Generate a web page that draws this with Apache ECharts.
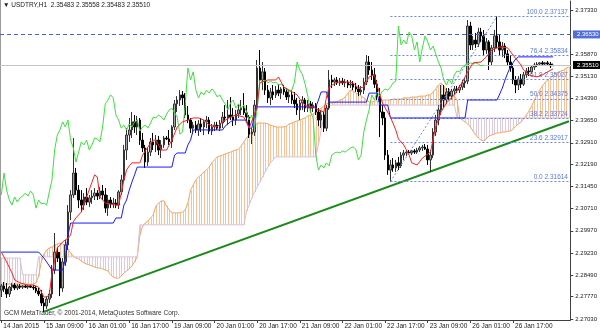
<!DOCTYPE html>
<html><head><meta charset="utf-8">
<script src="https://cdn.jsdelivr.net/npm/echarts@6/dist/echarts.min.js"></script>
<style>html,body{margin:0;padding:0;background:#fff}#c{width:600px;height:333px}</style>
</head><body><div id="c"></div>
<script>
const symbolTitle = '\u25BC USDTRY,H1  2.35483 2.35558 2.35483 2.35510';
const copyright = 'GCM MetaTrader, \u00A9 2001-2014, MetaQuotes Software Corp.';
const startTime = '2015-01-14T17:00';
const barCount = 214;
const xTickLabels = ['14 Jan 2015','15 Jan 09:00','16 Jan 01:00','16 Jan 17:00','19 Jan 09:00','20 Jan 01:00','20 Jan 17:00','21 Jan 09:00','22 Jan 01:00','22 Jan 17:00','23 Jan 09:00','26 Jan 01:00','26 Jan 17:00'];
const yTickValues = [2.3733,2.3587,2.3513,2.3439,2.3365,2.3291,2.3219,2.3145,2.3071,2.2997,2.2923,2.2849,2.2777,2.2703];

const open = [
2.2799,2.2813,2.2803,2.2786,2.2809,2.2816,2.2806,2.2813,2.2809,2.2813,
2.2809,2.2813,2.2809,2.2806,2.2796,2.2786,2.2756,2.2746,2.2769,2.2786,
2.2866,2.2926,2.2906,2.2806,2.2893,2.2950,2.3060,2.3117,2.3190,2.3133,
2.3100,2.3083,2.3110,2.3093,2.3107,2.3113,2.3123,2.3113,2.3130,2.3117,
2.3073,2.3100,2.3087,2.3090,2.3083,2.3127,2.3167,2.3267,2.3317,2.3334,
2.3361,2.3344,2.3367,2.3300,2.3274,2.3227,2.3260,2.3294,2.3284,2.3300,
2.3267,2.3284,2.3307,2.3304,2.3294,2.3344,2.3421,2.3434,2.3451,2.3441,
2.3384,2.3367,2.3340,2.3350,2.3334,2.3354,2.3344,2.3361,2.3367,2.3330,
2.3344,2.3350,2.3340,2.3357,2.3377,2.3374,2.3384,2.3377,2.3367,2.3387,
2.3401,2.3407,2.3391,2.3377,2.3320,2.3327,2.3417,2.3541,2.3501,2.3528,
2.3467,2.3441,2.3461,2.3451,2.3467,2.3457,2.3471,2.3461,2.3444,2.3451,
2.3434,2.3421,2.3401,2.3424,2.3434,2.3407,2.3421,2.3407,2.3417,2.3394,
2.3367,2.3384,2.3340,2.3407,2.3501,2.3494,2.3501,2.3491,2.3497,2.3491,
2.3494,2.3484,2.3487,2.3477,2.3471,2.3461,2.3467,2.3494,2.3561,2.3534,
2.3518,2.3487,2.3447,2.3394,2.3374,2.3250,2.3200,2.3217,2.3207,2.3224,
2.3214,2.3250,2.3257,2.3260,2.3257,2.3264,2.3260,2.3267,2.3274,2.3277,
2.3270,2.3234,2.3250,2.3327,2.3367,2.3401,2.3451,2.3434,2.3461,2.3447,
2.3464,2.3471,2.3467,2.3477,2.3491,2.3497,2.3681,2.3618,2.3634,2.3621,
2.3661,2.3648,2.3601,2.3628,2.3561,2.3608,2.3648,2.3628,2.3601,2.3614,
2.3588,2.3561,2.3541,2.3501,2.3484,2.3504,2.3487,2.3518,2.3531,2.3528,
2.3544,2.3551,2.3554,2.3558,2.3554,2.3558,2.3554,2.35483];
const high = [
2.2819,2.2826,2.2823,2.2813,2.2823,2.2823,2.2819,2.2819,2.2816,2.2816,
2.2816,2.2816,2.2816,2.2813,2.2806,2.2799,2.2773,2.2779,2.2799,2.2883,
2.2990,2.2943,2.2926,2.2906,2.2966,2.3083,2.3133,2.3307,2.3207,2.3150,
2.3133,2.3123,2.3140,2.3117,2.3133,2.3140,2.3133,2.3143,2.3150,2.3140,
2.3117,2.3110,2.3107,2.3103,2.3133,2.3184,2.3284,2.3340,2.3374,2.3394,
2.3384,2.3381,2.3374,2.3324,2.3284,2.3274,2.3307,2.3324,2.3317,2.3314,
2.3300,2.3314,2.3314,2.3334,2.3350,2.3434,2.3447,2.3467,2.3464,2.3457,
2.3414,2.3374,2.3361,2.3364,2.3367,2.3374,2.3367,2.3381,2.3377,2.3354,
2.3361,2.3361,2.3367,2.3394,2.3417,2.3434,2.3444,2.3407,2.3401,2.3421,
2.3434,2.3457,2.3417,2.3384,2.3340,2.3434,2.3568,2.3601,2.3561,2.3541,
2.3484,2.3474,2.3484,2.3481,2.3487,2.3477,2.3484,2.3474,2.3467,2.3467,
2.3461,2.3441,2.3434,2.3447,2.3441,2.3434,2.3431,2.3427,2.3424,2.3407,
2.3401,2.3394,2.3417,2.3534,2.3518,2.3508,2.3511,2.3508,2.3508,2.3504,
2.3501,2.3501,2.3497,2.3491,2.3484,2.3481,2.3508,2.3584,2.3581,2.3561,
2.3541,2.3501,2.3474,2.3417,2.3394,2.3267,2.3234,2.3240,2.3234,2.3244,
2.3260,2.3267,2.3267,2.3267,2.3267,2.3270,2.3274,2.3280,2.3284,2.3287,
2.3284,2.3267,2.3340,2.3384,2.3417,2.3484,2.3484,2.3474,2.3474,2.3471,
2.3481,2.3481,2.3484,2.3501,2.3508,2.3701,2.3695,2.3648,2.3658,2.3675,
2.3675,2.3668,2.3641,2.3634,2.3618,2.3668,2.37137,2.3651,2.3628,2.3624,
2.3601,2.3584,2.3554,2.3514,2.3514,2.3521,2.3528,2.3541,2.3544,2.3551,
2.3558,2.3561,2.3561,2.3564,2.3561,2.3564,2.3561,2.35558];
const low = [
2.2776,2.2793,2.2773,2.2776,2.2796,2.2799,2.2799,2.2803,2.2803,2.2806,
2.2803,2.2806,2.2799,2.2789,2.2779,2.2746,2.2726,2.2736,2.2756,2.2773,
2.2853,2.2893,2.2779,2.2793,2.2880,2.2933,2.3033,2.3107,2.3117,2.3073,
2.3060,2.3067,2.3083,2.3077,2.3087,2.3100,2.3100,2.3103,2.3100,2.3057,
2.3047,2.3073,2.3073,2.3073,2.3070,2.3117,2.3157,2.3234,2.3294,2.3307,
2.3324,2.3317,2.3284,2.3260,2.3207,2.3214,2.3247,2.3267,2.3260,2.3250,
2.3240,2.3274,2.3300,2.3284,2.3274,2.3334,2.3394,2.3414,2.3417,2.3374,
2.3357,2.3324,2.3320,2.3324,2.3314,2.3327,2.3317,2.3340,2.3320,2.3317,
2.3330,2.3334,2.3330,2.3340,2.3361,2.3350,2.3367,2.3347,2.3350,2.3374,
2.3384,2.3384,2.3364,2.3307,2.3287,2.3314,2.3401,2.3484,2.3467,2.3451,
2.3424,2.3417,2.3434,2.3441,2.3447,2.3437,2.3451,2.3434,2.3424,2.3421,
2.3407,2.3384,2.3367,2.3401,2.3394,2.3394,2.3391,2.3394,2.3384,2.3347,
2.3340,2.3327,2.3330,2.3401,2.3474,2.3481,2.3484,2.3481,2.3484,2.3477,
2.3474,2.3474,2.3467,2.3461,2.3447,2.3451,2.3454,2.3484,2.3518,2.3501,
2.3474,2.3434,2.3310,2.3350,2.3234,2.3184,2.31614,2.3194,2.3194,2.3200,
2.3207,2.3234,2.3247,2.3254,2.3250,2.3254,2.3254,2.3260,2.3264,2.3267,
2.3217,2.3194,2.3240,2.3314,2.3350,2.3384,2.3407,2.3421,2.3434,2.3437,
2.3451,2.3457,2.3457,2.3467,2.3474,2.3487,2.3601,2.3601,2.3608,2.3611,
2.3628,2.3584,2.3588,2.3534,2.3548,2.3594,2.3608,2.3584,2.3578,2.3574,
2.3548,2.3528,2.3487,2.3457,2.3467,2.3474,2.3481,2.3508,2.3514,2.3521,
2.3534,2.3544,2.3548,2.3551,2.3548,2.3551,2.3541,2.35483];
const close = [
2.2813,2.2803,2.2786,2.2809,2.2816,2.2806,2.2813,2.2809,2.2813,2.2809,
2.2813,2.2809,2.2806,2.2796,2.2786,2.2756,2.2746,2.2769,2.2786,2.2866,
2.2926,2.2906,2.2806,2.2893,2.2950,2.3060,2.3117,2.3190,2.3133,2.3100,
2.3083,2.3110,2.3093,2.3107,2.3113,2.3123,2.3113,2.3130,2.3117,2.3073,
2.3100,2.3087,2.3090,2.3083,2.3127,2.3167,2.3267,2.3317,2.3334,2.3361,
2.3344,2.3367,2.3300,2.3274,2.3227,2.3260,2.3294,2.3284,2.3300,2.3267,
2.3284,2.3307,2.3304,2.3294,2.3344,2.3421,2.3434,2.3451,2.3441,2.3384,
2.3367,2.3340,2.3350,2.3334,2.3354,2.3344,2.3361,2.3367,2.3330,2.3344,
2.3350,2.3340,2.3357,2.3377,2.3374,2.3384,2.3377,2.3367,2.3387,2.3401,
2.3407,2.3391,2.3377,2.3320,2.3327,2.3417,2.3541,2.3501,2.3528,2.3467,
2.3441,2.3461,2.3451,2.3467,2.3457,2.3471,2.3461,2.3444,2.3451,2.3434,
2.3421,2.3401,2.3424,2.3434,2.3407,2.3421,2.3407,2.3417,2.3394,2.3367,
2.3384,2.3340,2.3407,2.3501,2.3494,2.3501,2.3491,2.3497,2.3491,2.3494,
2.3484,2.3487,2.3477,2.3471,2.3461,2.3467,2.3494,2.3561,2.3534,2.3518,
2.3487,2.3447,2.3394,2.3374,2.3250,2.3200,2.3217,2.3207,2.3224,2.3214,
2.3250,2.3257,2.3260,2.3257,2.3264,2.3260,2.3267,2.3274,2.3277,2.3270,
2.3234,2.3250,2.3327,2.3367,2.3401,2.3451,2.3434,2.3461,2.3447,2.3464,
2.3471,2.3467,2.3477,2.3491,2.3497,2.3681,2.3618,2.3634,2.3621,2.3661,
2.3648,2.3601,2.3628,2.3561,2.3608,2.3648,2.3628,2.3601,2.3614,2.3588,
2.3561,2.3541,2.3501,2.3484,2.3504,2.3487,2.3518,2.3531,2.3528,2.3544,
2.3551,2.3554,2.3558,2.3554,2.3558,2.3554,2.3548,2.35510];

const tenkan = [[0,2.2926],[2,2.2893],[4,2.2856],[5,2.2833],[7,2.2823],[10,2.2816],[12,2.2816],[14,2.2809],[15,2.2793],[16,2.2776],[17,2.2776],[18,2.2783],[19,2.2856],[21,2.2940],[23,2.2960],[25,2.2973],[26,2.2983],[27,2.3027],[28,2.3040],[29,2.3050],[30,2.3060],[32,2.3110],[35,2.3184],[36,2.3177],[37,2.3110],[39,2.3090],[43,2.3083],[44,2.3083],[45,2.3123],[46,2.3167],[47,2.3200],[48,2.3214],[49,2.3224],[52,2.3224],[53,2.3250],[55,2.3277],[57,2.3300],[58,2.3300],[60,2.3267],[62,2.3267],[63,2.3284],[64,2.3300],[66,2.3344],[68,2.3361],[70,2.3367],[72,2.3374],[74,2.3374],[76,2.3367],[78,2.3350],[81,2.3344],[83,2.3361],[86,2.3377],[88,2.3384],[91,2.3377],[93,2.3340],[96,2.3411],[97,2.3491],[100,2.3501],[103,2.3501],[104,2.3511],[106,2.3477],[108,2.3467],[111,2.3451],[113,2.3424],[115,2.3411],[117,2.3411],[119,2.3401],[121,2.3394],[122,2.3444],[123,2.3477],[126,2.3494],[130,2.3494],[132,2.3491],[134,2.3474],[136,2.3477],[138,2.3511],[140,2.3518],[141,2.3484],[143,2.3424],[146,2.3377],[148,2.3334],[149,2.3304],[151,2.3284],[153,2.3250],[154,2.3224],[156,2.3217],[158,2.3240],[161,2.3260],[163,2.3344],[165,2.3394],[167,2.3424],[170,2.3451],[173,2.3494],[175,2.3528],[177,2.3558],[180,2.3561],[182,2.3578],[184,2.3601],[187,2.3611],[190,2.3608],[192,2.3584],[195,2.3551],[196,2.3534],[198,2.3518],[201,2.3511],[203,2.3518],[207,2.3538]];

const kijun = [[0,2.2926],[14,2.2926],[15,2.2916],[16,2.2906],[17,2.2893],[18,2.2880],[19,2.2866],[23,2.2866],[24,2.2900],[25,2.2983],[26,2.3023],[42,2.3023],[43,2.3040],[45,2.3040],[46,2.3083],[47,2.3100],[48,2.3133],[49,2.3160],[50,2.3184],[51,2.3210],[64,2.3210],[65,2.3250],[66,2.3257],[69,2.3257],[70,2.3284],[71,2.3300],[72,2.3334],[83,2.3334],[84,2.3347],[85,2.3354],[86,2.3361],[87,2.3367],[92,2.3367],[93,2.3340],[94,2.3340],[95,2.3384],[96,2.3411],[118,2.3411],[119,2.3434],[120,2.3461],[122,2.3461],[123,2.3427],[137,2.3427],[138,2.3457],[141,2.3457],[142,2.3417],[145,2.3417],[146,2.3374],[174,2.3374],[175,2.3434],[186,2.3434],[187,2.3454],[188,2.3474],[189,2.3501],[190,2.3524],[191,2.3544],[192,2.3558],[193,2.3571],[194,2.3578],[207,2.3578]];

const spanA = [
2.2819,2.2819,2.2819,2.2819,2.2819,2.2819,2.2819,2.2819,2.2819,2.2819,
2.2819,2.2819,2.2819,2.2823,2.2846,2.2893,2.2920,2.2933,2.2940,2.2943,
2.2950,2.2953,2.2956,2.2953,2.2950,2.2936,2.2923,2.2913,2.2906,2.2903,
2.2896,2.2890,2.2886,2.2883,2.2880,2.2876,2.2873,2.2873,2.2870,2.2866,
2.2863,2.2850,2.2843,2.2839,2.2839,2.2846,2.2856,2.2863,2.2870,2.2880,
2.2893,2.2910,2.2983,2.3013,2.3023,2.3030,2.3040,2.3050,2.3080,2.3090,
2.3097,2.3097,2.3080,2.3067,2.3057,2.3057,2.3057,2.3057,2.3060,2.3067,
2.3090,2.3133,2.3150,2.3167,2.3177,2.3184,2.3194,2.3200,2.3210,2.3224,
2.3234,2.3244,2.3247,2.3250,2.3254,2.3257,2.3260,2.3264,2.3267,2.3270,
2.3280,2.3294,2.3307,2.3317,2.3330,2.3344,2.3357,2.3357,2.3357,2.3357,
2.3354,2.3350,2.3347,2.3344,2.3344,2.3344,2.3344,2.3347,2.3354,2.3357,
2.3361,2.3364,2.3367,2.3371,2.3374,2.3381,2.3384,2.3387,2.3394,2.3401,
2.3407,2.3414,2.3421,2.3424,2.3424,2.3427,2.3427,2.3434,2.3437,2.3444,
2.3457,2.3467,2.3464,2.3457,2.3454,2.3447,2.3441,2.3434,2.3427,2.3427,
2.3431,2.3431,2.3431,2.3434,2.3434,2.3434,2.3434,2.3437,2.3437,2.3437,
2.3437,2.3441,2.3441,2.3441,2.3444,2.3444,2.3444,2.3447,2.3447,2.3447,
2.3451,2.3451,2.3461,2.3471,2.3484,2.3491,2.3481,2.3464,2.3461,2.3457,
2.3447,2.3434,2.3374,2.3367,2.3361,2.3354,2.3344,2.3330,2.3317,2.3307,
2.3300,2.3297,2.3304,2.3314,2.3317,2.3320,2.3324,2.3324,2.3327,2.3327,
2.3330,2.3330,2.3337,2.3347,2.3354,2.3361,2.3371,2.3384,2.3397,2.3414,
2.3434,2.3451,2.3467,2.3481,2.3491,2.3501,2.3508,2.3514,2.3521,2.3528,
2.3531,2.3534,2.3541,2.3544];
const spanB = [
2.2906,2.2906,2.2906,2.2906,2.2906,2.2906,2.2906,2.2906,2.2850,2.2850,
2.2850,2.2850,2.2850,2.2850,2.2910,2.2910,2.2910,2.2910,2.2910,2.2910,
2.2910,2.2910,2.2910,2.2910,2.2910,2.2910,2.2910,2.2910,2.2910,2.2910,
2.2910,2.2910,2.2910,2.2910,2.2910,2.2910,2.2910,2.2910,2.2910,2.2910,
2.2910,2.2910,2.2910,2.2910,2.2910,2.2910,2.2910,2.2910,2.2910,2.2910,
2.2910,2.2910,2.3017,2.3017,2.3017,2.3017,2.3017,2.3017,2.3017,2.3017,
2.3017,2.3017,2.3017,2.3017,2.3017,2.3017,2.3017,2.3017,2.3017,2.3017,
2.3017,2.3017,2.3017,2.3017,2.3017,2.3017,2.3017,2.3017,2.3017,2.3017,
2.3017,2.3017,2.3017,2.3017,2.3017,2.3017,2.3017,2.3017,2.3017,2.3017,
2.3017,2.3017,2.3063,2.3083,2.3107,2.3127,2.3143,2.3160,2.3177,2.3194,
2.3210,2.3224,2.3234,2.3244,2.3244,2.3244,2.3244,2.3244,2.3244,2.3244,
2.3244,2.3244,2.3244,2.3244,2.3244,2.3244,2.3244,2.3244,2.3244,2.3284,
2.3334,2.3374,2.3407,2.3417,2.3417,2.3417,2.3417,2.3417,2.3417,2.3417,
2.3417,2.3417,2.3417,2.3417,2.3417,2.3417,2.3417,2.3417,2.3417,2.3417,
2.3417,2.3417,2.3417,2.3417,2.3417,2.3417,2.3417,2.3417,2.3417,2.3417,
2.3417,2.3417,2.3417,2.3417,2.3417,2.3417,2.3417,2.3417,2.3417,2.3417,
2.3417,2.3417,2.3417,2.3417,2.3417,2.3417,2.3417,2.3417,2.3417,2.3417,
2.3417,2.3374,2.3374,2.3374,2.3374,2.3374,2.3374,2.3374,2.3374,2.3374,
2.3374,2.3374,2.3374,2.3374,2.3374,2.3374,2.3374,2.3374,2.3374,2.3374,
2.3374,2.3374,2.3374,2.3374,2.3374,2.3374,2.3374,2.3374,2.3374,2.3374,
2.3374,2.3374,2.3374,2.3374,2.3374,2.3374,2.3374,2.3374,2.3374,2.3374,
2.3374,2.3374,2.3374,2.3374];

const chikouShift = 26;
const fibLevels = [100.0, 76.4, 61.8, 50.0, 38.2, 23.6, 0.0];
const fibPrices = [2.37137, 2.35834, 2.35027, 2.34375, 2.33724, 2.32917, 2.31614];
const fibAnchors = [[146, 2.31614], [186, 2.37137]];
const trendLine = [[16, 2.2727], [213, 2.3363]];
const hLinePrice = 2.3653;
const bidPrice = 2.3551;

// ---- build ----
function buildCategories(startISO, n) {
  const out = [];
  let t = Date.parse(startISO + ':00Z');
  while (out.length < n) {
    const d = new Date(t);
    const wd = d.getUTCDay();
    if (wd !== 0 && wd !== 6) out.push(d.toISOString().slice(0, 16).replace('T', ' '));
    t += 3600000;
  }
  return out;
}
const categories = buildCategories(startTime, barCount);
const candleData = open.map((o, i) => [o, close[i], low[i], high[i]]);
const cloudData = spanA.map((a, i) => [i, a, spanB[i]]);
const chikou = close.slice(chikouShift).map((c, i) => [i, c]);
const FONT = '"Liberation Sans", Arial, sans-serif';
const tickEvery = 16;
const showTick = (idx) => idx % tickEvery === 0 && idx / tickEvery < xTickLabels.length;

const fibLines = fibPrices.map((p, k) => [
  { coord: [fibAnchors[0][0], p], name: fibLevels[k].toFixed(1) + ' ' + p.toFixed(5) },
  { coord: [barCount - 1, p] }
]);
fibLines.push([{ coord: fibAnchors[0], name: '' }, { coord: fibAnchors[1] }]);

const priceLines = [
  [{ coord: [0, bidPrice], x: 0, name: bidPrice.toFixed(5),
     lineStyle: { color: '#c4c4c4', type: 'solid', width: 1 },
     label: { backgroundColor: '#000000', color: '#ffffff' } },
   { coord: [barCount - 1, bidPrice], x: 572 }],
  [{ coord: [0, hLinePrice], x: 0, name: hLinePrice.toFixed(5),
     lineStyle: { color: '#4a64d8', type: [4, 3], width: 1 },
     label: { backgroundColor: '#4f70d8', color: '#ffffff' } },
   { coord: [barCount - 1, hLinePrice], x: 572 }]
];

const chart = echarts.init(document.getElementById('c'), null, { renderer: 'canvas', width: 600, height: 333 });
chart.setOption({
  animation: false,
  backgroundColor: '#ffffff',
  grid: { left: 0, right: 28, top: 1, bottom: 13, containLabel: false },
  xAxis: {
    type: 'category', data: categories, boundaryGap: true,
    axisLine: { show: true, lineStyle: { color: '#404040', width: 1 } },
    axisTick: { show: true, alignWithLabel: true, length: 3, interval: showTick, lineStyle: { color: '#404040' } },
    axisLabel: { interval: showTick, align: 'left', margin: 3, padding: [0, 0, 0, 2],
      fontSize: 6.5, fontFamily: FONT, color: '#202020',
      formatter: (v, idx) => showTick(idx) ? xTickLabels[idx / tickEvery] : '' },
    splitLine: { show: false }
  },
  yAxis: {
    type: 'value', position: 'right',
    min: 2.26992, max: 2.376466,
    axisLine: { show: true, onZero: false, lineStyle: { color: '#404040', width: 1 } },
    axisTick: { show: true, length: 3, customValues: yTickValues, lineStyle: { color: '#404040' } },
    axisLabel: { customValues: yTickValues, formatter: v => v.toFixed(5), margin: 5,
      fontSize: 6, fontFamily: FONT, color: '#202020' },
    splitLine: { show: false }
  },
  series: [
    {
      name: 'cloud', type: 'custom', data: cloudData, z: 1, clip: true,
      encode: { x: 0, y: [1, 2] },
      renderItem: (params, api) => {
        const i = api.value(0), a = api.value(1), b = api.value(2);
        const pa = api.coord([i, a]), pb = api.coord([i, b]);
        const x = Math.round(pa[0]) + 0.5;
        return { type: 'line', shape: { x1: x, y1: pa[1], x2: x, y2: pb[1] },
          style: { stroke: a >= b ? '#f7c29a' : '#dccadc', lineWidth: 1 } };
      }
    },
    { name: 'spanA', type: 'line', data: spanA, symbol: 'none', z: 2,
      lineStyle: { color: '#f4a460', width: 1 } },
    { name: 'spanB', type: 'line', data: spanB, symbol: 'none', z: 2,
      lineStyle: { color: '#d8bfd8', width: 1 },
      markLine: {
        silent: true, symbol: ['none', 'none'], animation: false,
        label: { show: true, position: 'end', distance: 1, formatter: '{b}',
          padding: [1, 3, 1, 4], fontSize: 6, fontFamily: FONT },
        data: priceLines
      }
    },
    { name: 'trend', type: 'line', data: trendLine, symbol: 'none', z: 3,
      lineStyle: { color: '#1a8a1a', width: 2 } },
    {
      name: 'USDTRY', type: 'candlestick', data: candleData, barWidth: 2, z: 4,
      itemStyle: { color: '#a6a6a6', color0: '#000000', borderColor: '#333333', borderColor0: '#000000', borderWidth: 1 }
    },
    { name: 'chikou', type: 'line', data: chikou, symbol: 'none', z: 5,
      lineStyle: { color: '#3ee03e', width: 1 } },
    { name: 'kijun', type: 'line', data: kijun, symbol: 'none', z: 5,
      lineStyle: { color: '#1a1aff', width: 1 } },
    { name: 'tenkan', type: 'line', data: tenkan, symbol: 'none', z: 5,
      lineStyle: { color: '#ff2020', width: 1 },
      markLine: {
        silent: true, symbol: ['none', 'none'], animation: false,
        lineStyle: { color: '#6a86e8', type: [2, 2], width: 1 },
        label: { show: true, position: 'insideEndTop', distance: 1, formatter: '{b}',
          color: '#5a78e0', fontSize: 6.5, fontFamily: FONT },
        data: fibLines
      }
    }
  ],
  graphic: [
    { type: 'line', shape: { x1: 0.5, y1: 0, x2: 0.5, y2: 320 }, style: { stroke: '#9a9a9a', lineWidth: 1 }, silent: true },
    { type: 'text', left: 3, top: 2, style: { text: symbolTitle, font: '6.5px ' + FONT, fill: '#202020' }, silent: true },
    { type: 'text', left: 4, top: 310, style: { text: copyright, font: '6.5px ' + FONT, fill: '#303030' }, silent: true }
  ]
});
</script>
</body></html>
